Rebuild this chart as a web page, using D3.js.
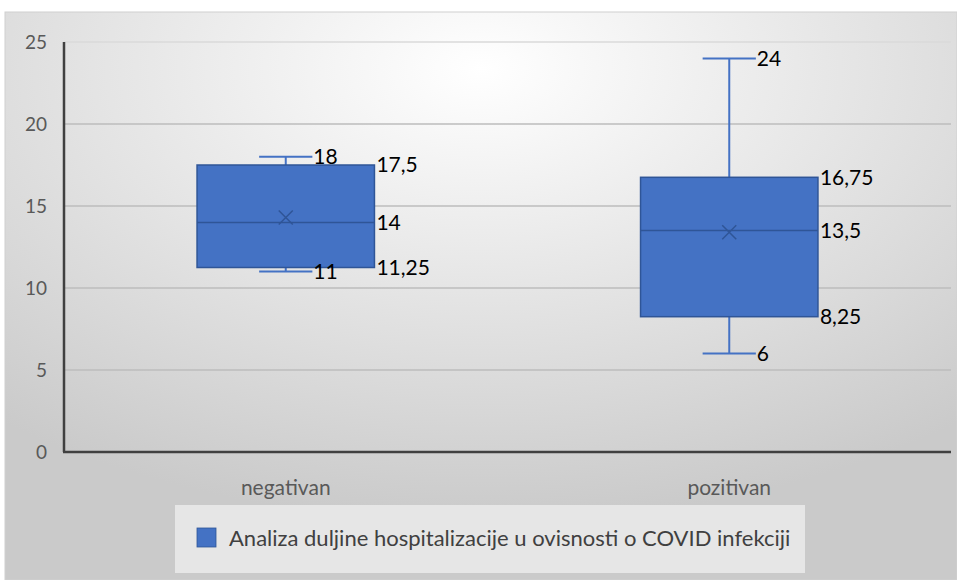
<!DOCTYPE html>
<html>
<head>
<meta charset="utf-8">
<script src="https://cdn.jsdelivr.net/npm/d3@7"></script>
<style>
  body { margin: 0; background: #fff; }
  svg text { font-family: Lato, "Open Sans", sans-serif; }
</style>
</head>
<body>
<div id="chart"></div>
<script>
// box plot values
var categories = ["negativan", "pozitivan"];
var mins = [11, 6];
var q1s = [11.25, 8.25];
var medians = [14, 13.5];
var q3s = [17.5, 16.75];
var maxs = [18, 24];
var means = [14.3, 13.4];
var yTicks = [0, 5, 10, 15, 20, 25];
var legendLabel = "Analiza duljine hospitalizacije u ovisnosti o COVID infekciji";

var W = 957, H = 580;
var svg = d3.select("#chart").append("svg")
	.attr("width", W)
	.attr("height", H);

// background gradient like the office chart style
var defs = svg.append("defs");
var grad = defs.append("radialGradient")
	.attr("id", "bg")
	.attr("cx", "50%").attr("cy", "10%").attr("r", "80%");
grad.append("stop").attr("offset", "0%").attr("stop-color", "#ffffff");
grad.append("stop").attr("offset", "100%").attr("stop-color", "#cacaca");

svg.append("rect")
	.attr("x", 5).attr("y", 12)
	.attr("width", W - 5).attr("height", H - 12)
	.attr("fill", "url(#bg)")
	.attr("stroke", "#d0d0d0");

// plot area edges
var plotLeft = 64, plotRight = 951, plotTop = 42, plotBottom = 452;

var x = d3.scaleBand()
	.domain(categories)
	.range([plotLeft, plotRight]);

var y = d3.scaleLinear()
	.domain([0, 25])
	.range([plotBottom, plotTop]);

var fmt = function(v) { return String(v).replace(".", ","); };

// gridlines
svg.selectAll("line.grid")
	.data(yTicks.filter(function(t) { return t > 0; }))
	.enter().append("line")
	.attr("class", "grid")
	.attr("x1", plotLeft).attr("x2", plotRight)
	.attr("y1", function(d) { return y(d); })
	.attr("y2", function(d) { return y(d); })
	.attr("stroke", function(d) { return d == 25 ? "#dadada" : "#bdbdbd"; })
	.attr("stroke-width", 1.5);

// y tick labels
svg.selectAll("text.ytick")
	.data(yTicks)
	.enter().append("text")
	.attr("class", "ytick")
	.attr("x", 47)
	.attr("y", function(d) { return y(d); })
	.attr("dy", "0.35em")
	.attr("text-anchor", "end")
	.attr("fill", "#595959")
	.attr("font-size", 19)
	.text(function(d) { return d; });

// axes lines
svg.append("line")
	.attr("x1", plotLeft).attr("x2", plotLeft)
	.attr("y1", plotTop).attr("y2", plotBottom)
	.attr("stroke", "#404040").attr("stroke-width", 2.5);
svg.append("line")
	.attr("x1", plotLeft - 1).attr("x2", plotRight)
	.attr("y1", plotBottom).attr("y2", plotBottom)
	.attr("stroke", "#404040").attr("stroke-width", 2.5);

// category labels
svg.selectAll("text.cat")
	.data(categories)
	.enter().append("text")
	.attr("class", "cat")
	.attr("x", function(d) { return x(d) + x.bandwidth() / 2; })
	.attr("y", 488)
	.attr("dy", "0.35em")
	.attr("text-anchor", "middle")
	.attr("fill", "#595959")
	.attr("font-size", 21)
	.text(function(d) { return d; });

var boxW = x.bandwidth() * 0.4;
var capW = boxW * 0.15;
var blue = "#4472c4", dark = "#2f5597";

for (var i in categories) {
	var cx = x(categories[i]) + x.bandwidth() / 2;

	// whisker stem
	svg.append("line")
		.attr("x1", cx).attr("x2", cx)
		.attr("y1", y(maxs[i])).attr("y2", y(mins[i]))
		.attr("stroke", blue).attr("stroke-width", 2);

	// caps
	[mins[i], maxs[i]].forEach(function(v) {
		svg.append("line")
			.attr("x1", cx - capW).attr("x2", cx + capW)
			.attr("y1", y(v)).attr("y2", y(v))
			.attr("stroke", blue).attr("stroke-width", 2);
	});

	// box
	svg.append("rect")
		.attr("x", cx - boxW / 2)
		.attr("y", y(q3s[i]))
		.attr("width", boxW)
		.attr("height", y(q1s[i]) - y(q3s[i]))
		.attr("fill", blue)
		.attr("stroke", dark)
		.attr("stroke-width", 1.5);

	// median
	svg.append("line")
		.attr("x1", cx - boxW / 2).attr("x2", cx + boxW / 2)
		.attr("y1", y(medians[i])).attr("y2", y(medians[i]))
		.attr("stroke", dark).attr("stroke-width", 1.5);

	// mean marker
	var my = y(means[i]), s = 7;
	svg.append("path")
		.attr("d", "M" + (cx - s) + "," + (my - s) + "L" + (cx + s) + "," + (my + s) +
			"M" + (cx - s) + "," + (my + s) + "L" + (cx + s) + "," + (my - s))
		.attr("stroke", dark).attr("stroke-width", 1.5).attr("fill", "none");

	// labels for whisker ends
	[mins[i], maxs[i]].forEach(function(v) {
		svg.append("text")
			.attr("x", cx + capW + 1)
			.attr("y", y(v))
			.attr("dy", "0.35em")
			.attr("fill", "#000")
			.attr("font-size", 21)
			.text(fmt(v));
	});

	// labels for box values
	[q1s[i], medians[i], q3s[i]].forEach(function(v) {
		svg.append("text")
			.attr("x", cx + boxW / 2 + 2)
			.attr("y", y(v))
			.attr("dy", "0.35em")
			.attr("fill", "#000")
			.attr("font-size", 21)
			.text(fmt(v));
	});
}

// legend
svg.append("rect")
	.attr("x", 175).attr("y", 505)
	.attr("width", 630).attr("height", 68)
	.attr("fill", "#ececec").attr("opacity", 0.8);
svg.append("rect")
	.attr("x", 197).attr("y", 528)
	.attr("width", 19).attr("height", 19)
	.attr("fill", blue).attr("stroke", dark).attr("stroke-width", 0.8);
svg.append("text")
	.attr("x", 229).attr("y", 538)
	.attr("dy", "0.35em")
	.attr("fill", "#404040")
	.attr("font-size", 22)
	.text(legendLabel);
</script>
</body>
</html>
